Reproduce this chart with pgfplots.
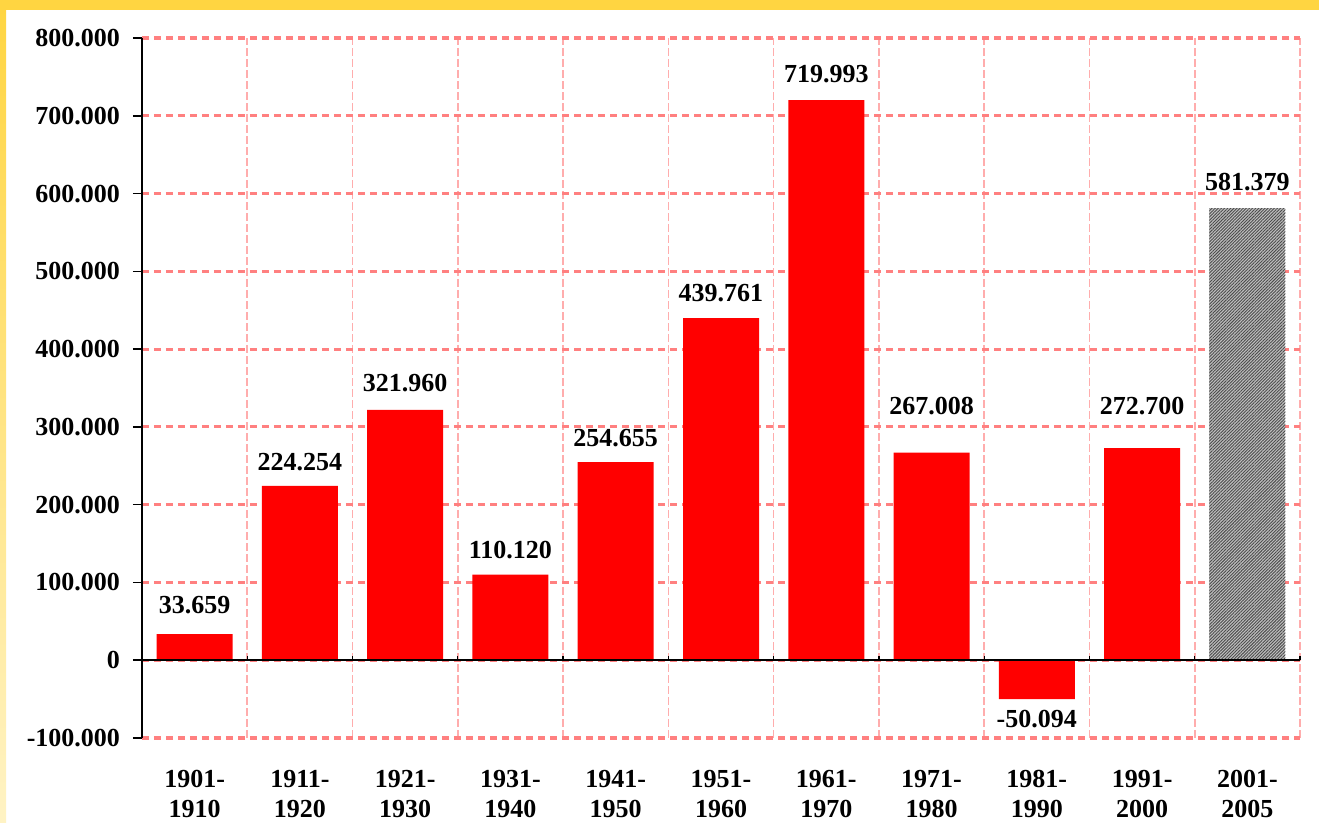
\documentclass[border=0pt]{standalone}
\usepackage{fontspec}
\setmainfont{Liberation Serif}
\usepackage{pgfplots}
\usepackage{pgfplotstable}
\usetikzlibrary{patterns.meta}
\pgfplotsset{compat=1.18}

\definecolor{barred}{HTML}{FF0000}
\definecolor{hgrid}{HTML}{FF8080}
\definecolor{vgrid}{HTML}{FFADAD}
\definecolor{bandtop}{HTML}{FFD541}
\definecolor{bandlight}{HTML}{FFF3C4}

% x, value (thousands), label offset (pt), label text
\pgfplotstableread{
x  y        dy    label
1  33.659   10.5  33.659
2  224.254  7.5   224.254
3  321.960  9     321.960
4  110.120  8     110.120
5  254.655  8     254.655
6  439.761  8.5   439.761
7  719.993  9     719.993
8  267.008  19    267.008
9  -50.094  -14   -50.094
10 272.700  17    272.700
}\decades

\pgfplotstableread{
x  y        dy    label
11 581.379  9     581.379
}\lastperiod

\begin{document}
\begin{tikzpicture}
\useasboundingbox (0,0) rectangle (659.5pt,411.5pt);
% frame
\fill[white] (0,0) rectangle (659.5pt,411.5pt);
\shade[top color=bandtop, bottom color=bandlight] (0,0) rectangle (3pt,411.5pt);
\fill[bandtop] (0,406.5pt) rectangle (659.5pt,411.5pt);

\begin{axis}[
    at={(71pt,42.5pt)}, anchor=south west,
    width=579pt, height=350pt, scale only axis,
    ybar, bar width=38pt,
    xmin=0.5, xmax=11.5,
    ymin=-100, ymax=800,
    axis lines*=left,
    separate axis lines,
    x axis line style={draw=none},
    y axis line style={black, line width=0.8pt},
    xtick={1,...,11},
    xticklabels={{1901-\\1910},{1911-\\1920},{1921-\\1930},{1931-\\1940},{1941-\\1950},{1951-\\1960},{1961-\\1970},{1971-\\1980},{1981-\\1990},{1991-\\2000},{2001-\\2005}},
    xtick style={draw=none},
    minor xtick={1.5,2.5,...,11.5},
    xminorgrids,
    minor x grid style={vgrid, line width=0.8pt, dash pattern=on 4pt off 1.5pt},
    ytick={-100,0,100,...,800},
    yticklabels={-100.000,0,100.000,200.000,300.000,400.000,500.000,600.000,700.000,800.000},
    ymajorgrids,
    y grid style={hgrid, line width=1.6pt, dash pattern=on 3.5pt off 2.5pt},
    ytick style={black, line width=0.8pt},
    tick align=outside,
    major tick length=4.5pt,
    minor tick length=0pt,
    ticklabel style={font=\bfseries\fontsize{13}{15}\selectfont},
    xticklabel style={align=center, yshift=-8pt},
    yticklabel style={xshift=-3pt},
    point meta=explicit symbolic,
    nodes near coords={\pgfplotspointmeta},
    visualization depends on={\thisrow{dy} \as \dy},
    every node near coord/.append style={font=\bfseries\fontsize{13}{15}\selectfont, anchor=base, inner sep=0pt, yshift=\dy pt},
    clip=false,
]
\addplot[fill=barred, draw=none, bar shift=0pt] table[x=x, y=y, meta=label] {\decades};
\addplot[fill=gray!50, draw=none, bar shift=0pt,
    postaction={pattern={Lines[angle=45, distance=1.1pt, line width=0.45pt]}, pattern color=black!70}]
    table[x=x, y=y, meta=label] {\lastperiod};

\draw[black, line width=0.8pt] (axis cs:0.5,0) -- (axis cs:11.5,0);
\pgfplotsinvokeforeach{1.5,2.5,3.5,4.5,5.5,6.5,7.5,8.5,9.5,10.5,11.5}{
    \draw[black, line width=0.6pt] (axis cs:#1,0) -- (axis cs:#1,6);
}
\end{axis}
\end{tikzpicture}
\end{document}
